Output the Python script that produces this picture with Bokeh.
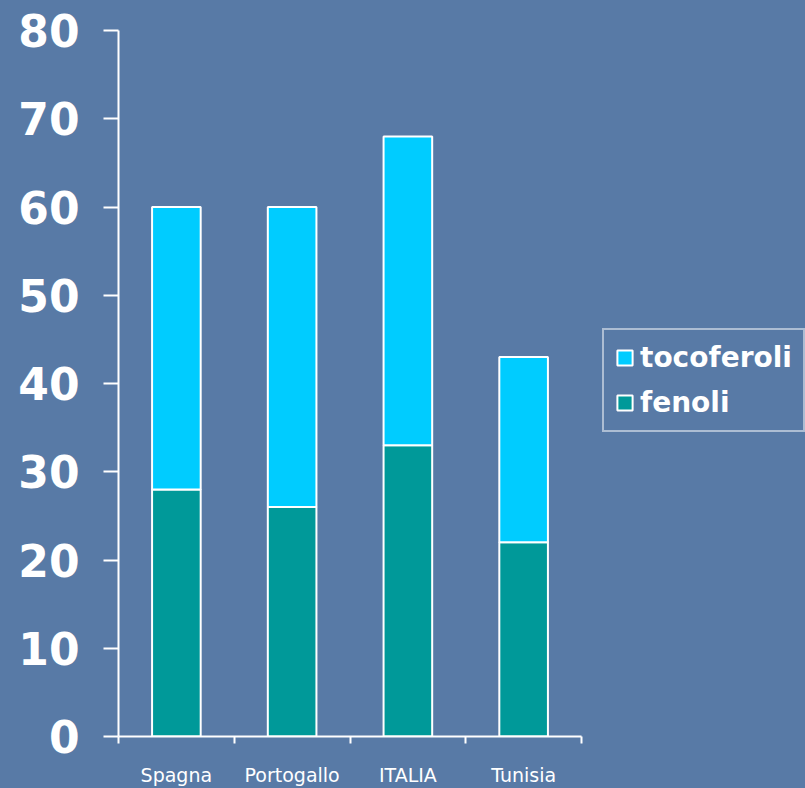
from bokeh.plotting import figure
from bokeh.layouts import row
from bokeh.models import ColumnDataSource, FixedTicker, Legend, LegendItem
from bokeh.embed import file_html
from bokeh.resources import INLINE

countries = ["Spagna", "Portogallo", "ITALIA", "Tunisia"]
fenoli = [28, 26, 33, 22]
tocoferoli = [32, 34, 35, 21]
y_ticks = [0, 10, 20, 30, 40, 50, 60, 70, 80]

BG = "#587aa6"
FEN_C = "#009999"
TOC_C = "#00ccff"
xs = [i + 0.5 for i in range(len(countries))]
src = ColumnDataSource(dict(
    x=xs, fen=fenoli, toc=tocoferoli,
    top2=[a + b for a, b in zip(fenoli, tocoferoli)],
))

p = figure(width=583, height=788, x_range=(0, 4), y_range=(0, 80),
           output_backend="svg", toolbar_location=None,
           min_border_left=118, min_border_right=2,
           min_border_top=30, min_border_bottom=48)
p.background_fill_color = None
p.border_fill_color = None
p.outline_line_color = None
p.xgrid.visible = False
p.ygrid.visible = False

p.vbar(x="x", width=0.42, bottom=0, top="fen", source=src,
       fill_color=FEN_C, line_color="white", line_width=2)
p.vbar(x="x", width=0.42, bottom="fen", top="top2", source=src,
       fill_color=TOC_C, line_color="white", line_width=2)

# y axis
ya = p.yaxis[0]
ya.ticker = FixedTicker(ticks=y_ticks)
ya.axis_line_color = "white"
ya.axis_line_width = 2
ya.major_tick_line_color = "white"
ya.major_tick_line_width = 2
ya.major_tick_in = 0
ya.major_tick_out = 15
ya.minor_tick_line_color = None
ya.major_label_text_color = "white"
ya.major_label_text_font = "DejaVu Sans"
ya.major_label_text_font_style = "bold"
ya.major_label_text_font_size = "44px"
ya.major_label_standoff = 24

# x axis
xa = p.xaxis[0]
xa.ticker = FixedTicker(ticks=xs, minor_ticks=list(range(len(countries) + 1)))
xa.major_label_overrides = {x: c for x, c in zip(xs, countries)}
xa.axis_line_color = "white"
xa.axis_line_width = 2
xa.major_tick_line_color = None
xa.minor_tick_line_color = "white"
xa.minor_tick_line_width = 2
xa.minor_tick_in = 0
xa.minor_tick_out = 7
xa.major_label_text_color = "white"
xa.major_label_text_font = "DejaVu Sans"
xa.major_label_text_font_size = "19px"
xa.major_label_standoff = 20

# legend panel (separate figure on the right)
q = figure(width=222, height=788, x_range=(0, 1), y_range=(0, 1),
           output_backend="svg", toolbar_location=None,
           x_axis_location=None, y_axis_location=None,
           min_border=0)
q.background_fill_color = None
q.border_fill_color = None
q.outline_line_color = None
q.xgrid.visible = False
q.ygrid.visible = False
d_toc = q.vbar(x="x", width=0.42, bottom="fen", top="top2", source=src,
               fill_color=TOC_C, line_color="white", line_width=2, visible=False)
d_fen = q.vbar(x="x", width=0.42, bottom=0, top="fen", source=src,
               fill_color=FEN_C, line_color="white", line_width=2, visible=False)

legend = Legend(items=[LegendItem(label="tocoferoli", renderers=[d_toc]),
                       LegendItem(label="fenoli", renderers=[d_fen])],
                location=(19, 304))
legend.background_fill_alpha = 0
legend.border_line_color = "white"
legend.border_line_width = 2
legend.label_text_color = "white"
legend.label_text_font = "DejaVu Sans"
legend.label_text_font_style = "bold"
legend.label_text_font_size = "28px"
legend.glyph_width = 19
legend.glyph_height = 19
legend.spacing = 12
legend.padding = 11
legend.margin = 0
legend.label_standoff = 6
q.add_layout(legend, "center")

layout = row(p, q, spacing=0, styles={"background-color": BG})
open("out.html", "w").write(file_html(layout, INLINE))
